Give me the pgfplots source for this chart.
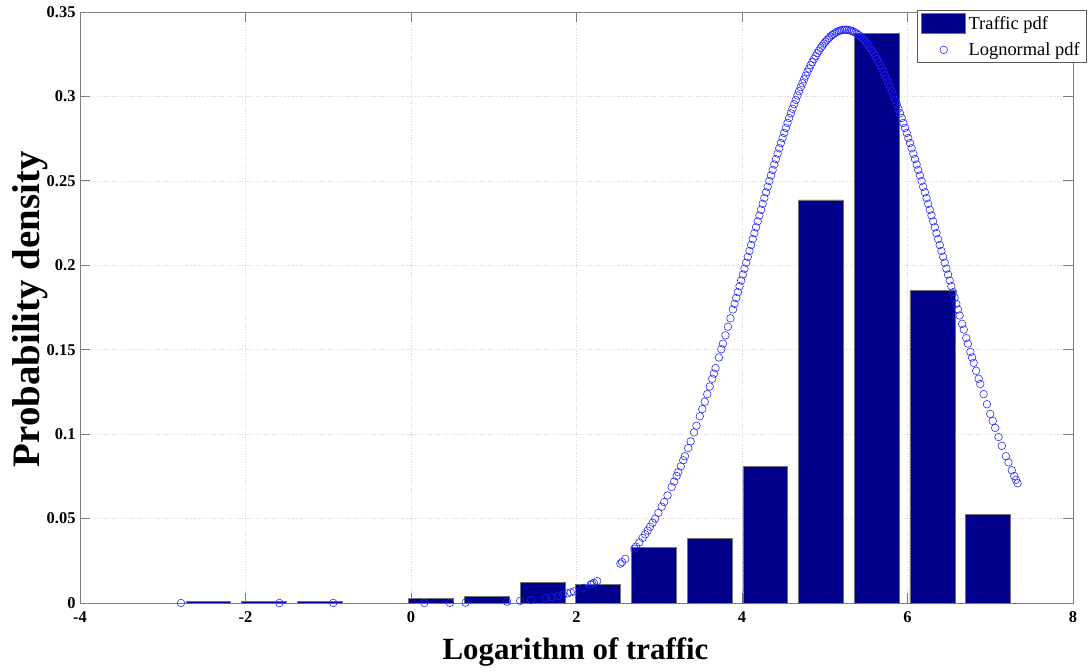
\documentclass[border=0pt]{standalone}
\usepackage{fontspec}
\setmainfont{Liberation Serif}
\usepackage{pgfplots}
\pgfplotsset{compat=1.18}
\definecolor{navybar}{RGB}{0,0,139}
\definecolor{framegray}{RGB}{125,125,125}
\definecolor{gridgray}{RGB}{218,218,218}
\definecolor{circblue}{RGB}{30,30,255}
\begin{document}
\begin{tikzpicture}
\path[use as bounding box] (-80bp,-69bp) rectangle (1012bp,603bp);
\begin{axis}[
  at={(0,0)}, anchor=south west,
  scale only axis, width=993bp, height=591bp,
  xmin=-4, xmax=8, ymin=0, ymax=0.35,
  clip=false,
  xtick={-4,-2,0,2,4,6,8},
  xticklabels={-4,-2,0,2,4,6,8},
  ytick={0,0.05,0.1,0.15,0.2,0.25,0.3,0.35},
  yticklabels={0,0.05,0.1,0.15,0.2,0.25,0.3,0.35},
  tick align=inside,
  major tick length=10bp,
  tick style={framegray, line width=0.9bp},
  axis line style={framegray, line width=0.9bp},
  ticklabel style={font=\bfseries\fontsize{16.5}{18}\selectfont},
  xticklabel style={yshift=-5bp},
  yticklabel style={xshift=-1bp},
  grid=major,
  major grid style={gridgray, line width=0.6bp, dash pattern=on 1.2bp off 1.5bp},
  xlabel={Logarithm of traffic},
  ylabel={Probability density},
  every axis x label/.style={at={(axis description cs:0.499,-0.0964)}, anchor=base,
     font=\bfseries\fontsize{31}{35}\selectfont},
  every axis y label/.style={at={(axis description cs:-0.0403,0.497)}, anchor=base, rotate=90,
     font=\bfseries\fontsize{39}{43}\selectfont},
  legend style={at={(axis description cs:0.8429,1.0034)}, anchor=north west,
     draw=black!65, line width=0.8bp, fill=white,
     font=\fontsize{18.5}{20}\selectfont,
     inner xsep=4bp, inner ysep=3bp, row sep=6bp,
     nodes={inner sep=2.5bp}},
  legend cell align=left,
]
\addplot[ybar, bar width=0.543, fill=navybar, draw=black!55, line width=0.7bp,
  legend image code/.code={\draw[fill=navybar, draw=black!55, line width=0.7bp] (0bp,-10bp) rectangle (44bp,10bp);}]
coordinates {
(-2.449,0.0010) (-1.776,0.0010) (-1.103,0.0010)
(0.244,0.0025) (0.917,0.0041) (1.590,0.0124) (2.263,0.0112)
(2.936,0.0328) (3.609,0.0383) (4.282,0.0807) (4.955,0.2387)
(5.628,0.3374) (6.301,0.1850) (6.974,0.0525)
};
\addlegendentry{Traffic pdf}
\addplot[only marks, mark=o, mark size=3.8bp, draw=circblue, line width=0.55bp,
  legend image code/.code={\draw[circblue, line width=0.55bp] (0bp,0bp) (44bp,0bp) (22bp,0bp) circle (3.8bp);}]
coordinates {
(-2.78,0) (-1.59,0) (-0.94,0) (0.16,0) (0.47,0.0001) (0.66,0.0002)
(1.16,0.0008) (1.32,0.0013) (1.45,0.0018) (1.63,0.0030) (1.70,0.0035)
(1.78,0.0043) (1.84,0.0050) (1.89,0.0057) (1.93,0.0063) (1.97,0.0069)
(2.08,0.0089) (2.17,0.0109) (2.19,0.0114) (2.21,0.0119) (2.25,0.0130)
(2.53,0.0233) (2.55,0.0242) (2.59,0.0262) (2.70,0.0322) (2.72,0.0334)
(2.76,0.0359) (2.80,0.0386) (2.83,0.0407) (2.86,0.0429) (2.89,0.0452)
(2.92,0.0475) (2.95,0.0500) (2.99,0.0534) (3.03,0.0570) (3.06,0.0598)
(3.10,0.0637) (3.15,0.0687) (3.18,0.0719) (3.21,0.0752) (3.23,0.0775)
(3.26,0.0809) (3.29,0.0845) (3.31,0.0869) (3.35,0.0918) (3.38,0.0957)
(3.42,0.1010) (3.45,0.1050) (3.49,0.1106) (3.52,0.1148) (3.55,0.1192)
(3.58,0.1237) (3.61,0.1282) (3.64,0.1328) (3.66,0.1359) (3.68,0.1391)
(3.72,0.1454) (3.75,0.1503) (3.77,0.1536) (3.80,0.1585) (3.83,0.1636)
(3.86,0.1686)
(3.89,0.1738) (3.91,0.1772) (3.93,0.1806) (3.95,0.1841) (3.97,0.1876)
(3.99,0.1910) (4.01,0.1945) (4.03,0.1980) (4.05,0.2015) (4.07,0.2050)
(4.09,0.2085) (4.11,0.2120) (4.13,0.2155) (4.15,0.2190) (4.17,0.2225)
(4.19,0.2260) (4.21,0.2295) (4.23,0.2329) (4.25,0.2364) (4.27,0.2398)
(4.29,0.2432) (4.31,0.2465) (4.33,0.2499) (4.35,0.2532) (4.37,0.2565)
(4.39,0.2597) (4.41,0.2629) (4.43,0.2661) (4.45,0.2693) (4.47,0.2724)
(4.49,0.2754) (4.51,0.2784) (4.53,0.2814) (4.55,0.2843) (4.57,0.2872)
(4.59,0.2900) (4.61,0.2927) (4.63,0.2954) (4.65,0.2980) (4.67,0.3006)
(4.69,0.3031) (4.71,0.3055) (4.73,0.3078) (4.75,0.3101) (4.77,0.3123)
(4.79,0.3145) (4.81,0.3165) (4.83,0.3185) (4.85,0.3204) (4.87,0.3222)
(4.89,0.3239) (4.91,0.3256) (4.93,0.3271) (4.95,0.3286) (4.97,0.3300)
(4.99,0.3313) (5.01,0.3325) (5.03,0.3336) (5.05,0.3346) (5.07,0.3355)
(5.09,0.3364) (5.11,0.3371) (5.13,0.3377) (5.15,0.3383) (5.17,0.3387)
(5.19,0.3391) (5.21,0.3393) (5.23,0.3395) (5.25,0.3395) (5.27,0.3395)
(5.29,0.3393) (5.31,0.3391) (5.33,0.3387) (5.35,0.3383) (5.37,0.3377)
(5.39,0.3371) (5.41,0.3364) (5.43,0.3355) (5.45,0.3346) (5.47,0.3336)
(5.49,0.3325) (5.51,0.3313) (5.53,0.3300) (5.55,0.3286) (5.57,0.3271)
(5.59,0.3256) (5.61,0.3239) (5.63,0.3222) (5.65,0.3204) (5.67,0.3185)
(5.69,0.3165) (5.71,0.3145) (5.73,0.3123) (5.75,0.3101) (5.77,0.3078)
(5.79,0.3055) (5.81,0.3031) (5.83,0.3006) (5.85,0.2980) (5.87,0.2954)
(5.89,0.2927) (5.91,0.2900) (5.93,0.2872) (5.95,0.2843) (5.97,0.2814)
(5.99,0.2784) (6.01,0.2754) (6.03,0.2724) (6.05,0.2693) (6.07,0.2661)
(6.09,0.2629) (6.11,0.2597) (6.13,0.2565) (6.15,0.2532) (6.17,0.2499)
(6.19,0.2465) (6.21,0.2432) (6.23,0.2398) (6.25,0.2364) (6.27,0.2329)
(6.29,0.2295) (6.31,0.2260) (6.33,0.2225) (6.35,0.2190) (6.37,0.2155)
(6.39,0.2120) (6.41,0.2085) (6.43,0.2050) (6.45,0.2015) (6.47,0.1980)
(6.49,0.1945) (6.51,0.1910) (6.53,0.1876) (6.55,0.1841) (6.57,0.1806)
(6.59,0.1772) (6.61,0.1738)
(6.63,0.1703) (6.66,0.1653) (6.68,0.1619) (6.71,0.1569) (6.73,0.1536)
(6.76,0.1487) (6.78,0.1454) (6.80,0.1422) (6.83,0.1375) (6.86,0.1328)
(6.88,0.1297) (6.92,0.1237) (6.96,0.1177) (7.00,0.1120) (7.03,0.1078)
(7.06,0.1037) (7.10,0.0983) (7.14,0.0931) (7.19,0.0869) (7.22,0.0833)
(7.26,0.0786) (7.29,0.0752) (7.31,0.0730) (7.33,0.0709)
};
\addlegendentry{Lognormal pdf}
\end{axis}
\end{tikzpicture}
\end{document}
